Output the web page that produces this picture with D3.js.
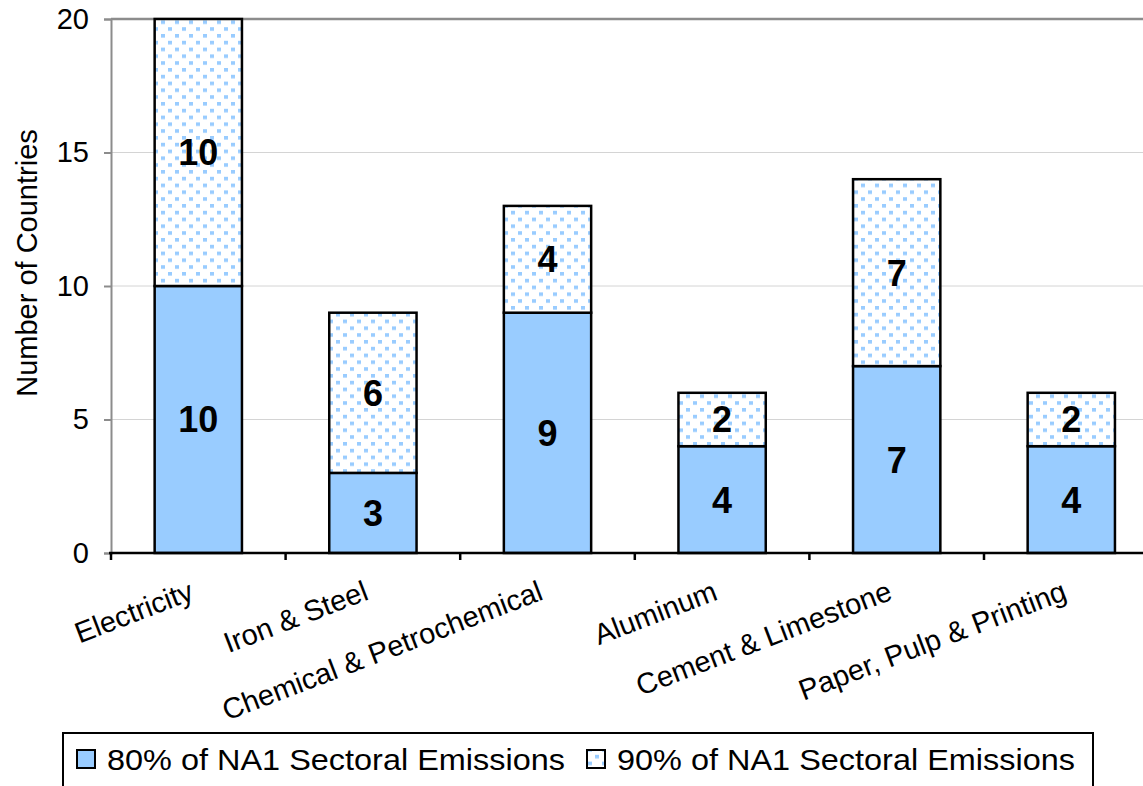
<!DOCTYPE html>
<html>
<head>
<meta charset="utf-8">
<script src="https://cdn.jsdelivr.net/npm/d3@7"></script>
<style>
  html, body { margin: 0; padding: 0; background: #fff; }
  svg { display: block; font-family: "Liberation Sans", Arial, sans-serif; }
</style>
</head>
<body>
<svg id="chart" width="1143" height="786"></svg>
<script>
// Sectors and number of countries covering each share of NA1 sectoral emissions
const sectors = ["Electricity", "Iron & Steel", "Chemical & Petrochemical", "Aluminum", "Cement & Limestone", "Paper, Pulp & Printing"];
const share80 = [10, 3, 9, 4, 7, 4];
const share90 = [10, 6, 4, 2, 7, 2];
const seriesNames = ["80% of NA1 Sectoral Emissions", "90% of NA1 Sectoral Emissions"];
const yTicks = [0, 5, 10, 15, 20];

const svg = d3.select("#chart");
const blue = "#99CCFF";

// dotted fill for the 90% segment
const defs = svg.append("defs");
const pat = defs.append("pattern")
  .attr("id", "dots")
  .attr("patternUnits", "userSpaceOnUse")
  .attr("width", 14).attr("height", 13.6);
pat.append("rect").attr("width", 14).attr("height", 13.6).attr("fill", "#fff");
pat.append("rect").attr("x", 0).attr("y", 0).attr("width", 4).attr("height", 3.6).attr("fill", blue);
pat.append("rect").attr("x", 7).attr("y", 6.8).attr("width", 4).attr("height", 3.6).attr("fill", blue);

const plot = { left: 111, right: 1158.6, top: 19, bottom: 553 };

const x = d3.scaleBand()
  .domain(sectors)
  .range([plot.left, plot.right])
  .paddingInner(0.5)
  .paddingOuter(0.25);

const y = d3.scaleLinear()
  .domain([0, 20])
  .range([plot.bottom, plot.top]);

// horizontal gridlines
svg.append("g")
  .selectAll("line")
  .data(yTicks.filter(t => t > 0 && t < 20))
  .join("line")
  .attr("x1", plot.left).attr("x2", 1143)
  .attr("y1", d => y(d)).attr("y2", d => y(d))
  .attr("stroke", "#d4d4d4").attr("stroke-width", 1);

// top border of the plot area
svg.append("line")
  .attr("x1", plot.left).attr("x2", 1143)
  .attr("y1", y(20)).attr("y2", y(20))
  .attr("stroke", "#8c8c8c").attr("stroke-width", 2.5);

// y axis
const yAxis = d3.axisLeft(y).tickValues(yTicks).tickSize(7).tickPadding(15).tickFormat(d3.format("d"));
const gy = svg.append("g").attr("transform", `translate(${plot.left},0)`).call(yAxis);
gy.select(".domain").attr("stroke", "#8c8c8c").attr("stroke-width", 2);
gy.selectAll(".tick line").attr("stroke", "#8c8c8c").attr("stroke-width", 2);
gy.selectAll(".tick text")
  .attr("font-size", 29)
  .attr("font-family", "Liberation Sans, Arial, sans-serif")
  .attr("fill", "#000");

// y axis title
svg.append("text")
  .attr("transform", `translate(37,263) rotate(-90)`)
  .attr("text-anchor", "middle")
  .attr("font-size", 29)
  .attr("fill", "#000")
  .text("Number of Countries");

// stacked bars
const stackData = sectors.map((s, i) => ({ sector: s, a: share80[i], b: share90[i] }));
const bars = svg.append("g");
bars.selectAll("rect.low")
  .data(stackData)
  .join("rect")
  .attr("class", "low")
  .attr("x", d => x(d.sector))
  .attr("width", x.bandwidth())
  .attr("y", d => y(d.a))
  .attr("height", d => y(0) - y(d.a))
  .attr("fill", blue)
  .attr("stroke", "#000").attr("stroke-width", 2.5);
bars.selectAll("rect.high")
  .data(stackData)
  .join("rect")
  .attr("class", "high")
  .attr("x", d => x(d.sector))
  .attr("width", x.bandwidth())
  .attr("y", d => y(d.a + d.b))
  .attr("height", d => y(d.a) - y(d.a + d.b))
  .attr("fill", "url(#dots)")
  .attr("stroke", "#000").attr("stroke-width", 2.5);

// value labels centred in each segment
const labels = svg.append("g")
  .attr("font-size", 36).attr("font-weight", "bold")
  .attr("text-anchor", "middle").attr("fill", "#000");
labels.selectAll("text.low")
  .data(stackData)
  .join("text")
  .attr("class", "low")
  .attr("x", d => x(d.sector) + x.bandwidth() / 2)
  .attr("y", d => y(d.a / 2))
  .attr("dy", "0.36em")
  .text(d => d.a);
labels.selectAll("text.high")
  .data(stackData)
  .join("text")
  .attr("class", "high")
  .attr("x", d => x(d.sector) + x.bandwidth() / 2)
  .attr("y", d => y(d.a + d.b / 2))
  .attr("dy", "0.36em")
  .text(d => d.b);

// x axis baseline with category boundary ticks
svg.append("line")
  .attr("x1", plot.left - 2).attr("x2", 1143)
  .attr("y1", y(0)).attr("y2", y(0))
  .attr("stroke", "#000").attr("stroke-width", 2.5);
const boundaries = d3.range(sectors.length).map(i => x(sectors[i]) - x.bandwidth() * 0.5);
svg.append("g")
  .selectAll("line")
  .data(boundaries)
  .join("line")
  .attr("x1", d => d).attr("x2", d => d)
  .attr("y1", y(0)).attr("y2", y(0) + 7)
  .attr("stroke", "#000").attr("stroke-width", 2.5);

// rotated category labels
svg.append("g")
  .selectAll("text")
  .data(sectors)
  .join("text")
  .attr("transform", d => `translate(${x(d) + x.bandwidth() / 2 - 3},599) rotate(-21)`)
  .attr("text-anchor", "end")
  .attr("font-size", 29)
  .attr("fill", "#000")
  .text(d => d);

// legend
const lg = svg.append("g");
lg.append("rect")
  .attr("x", 63).attr("y", 733).attr("width", 1030).attr("height", 80)
  .attr("fill", "#fff").attr("stroke", "#000").attr("stroke-width", 2);
const legendItems = [
  { name: seriesNames[0], fill: blue, sx: 77, tx: 107 },
  { name: seriesNames[1], fill: "url(#dots)", sx: 587, tx: 617 }
];
legendItems.forEach(it => {
  lg.append("rect")
    .attr("x", it.sx).attr("y", 750).attr("width", 18).attr("height", 18)
    .attr("fill", it.fill).attr("stroke", "#000").attr("stroke-width", 2);
  lg.append("text")
    .attr("x", it.tx).attr("y", 770)
    .attr("font-size", 30)
    .attr("textLength", 458)
    .attr("lengthAdjust", "spacingAndGlyphs")
    .attr("fill", "#000")
    .text(it.name);
});
</script>
</body>
</html>
